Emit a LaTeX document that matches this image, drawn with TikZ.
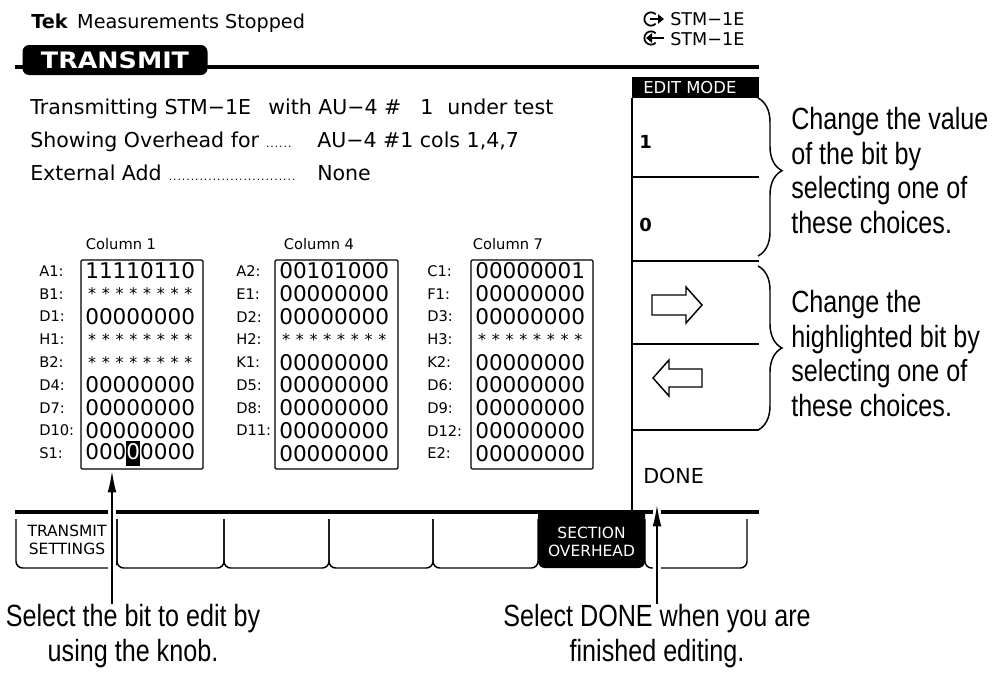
\documentclass[tikz,border=0pt]{standalone}
\usepackage{fontspec}
\setmainfont{DejaVu Sans}
\newfontfamily\notefont[FakeStretch=0.82]{Liberation Sans}
\usetikzlibrary{arrows.meta,positioning,calc,decorations.pathreplacing}

% a starred bit and the highlighted bit, each as wide as a digit
\newcommand\sbit{\makebox[.636em]{\raisebox{-.12em}{\fontsize{12}{12}\selectfont *}}}
\newcommand\starbits{\sbit\sbit\sbit\sbit\sbit\sbit\sbit\sbit}
\newcommand\hibit[1]{\makebox[.636em]{\rlap{\rule[-.3em]{.64em}{1.18em}}\textcolor{white}{#1}}}
\newcommand\leaderdots[1]{\hbox to #1{\leaders\hbox to 3.3pt{\hss\footnotesize.\hss}\hfill}}

\begin{document}
\begin{tikzpicture}[x=0.75pt, y=-0.75pt,
    heavy/.style={line width=2.3pt},
    thinline/.style={line width=0.9pt},
    scrtext/.style={anchor=base west, inner sep=0pt, font=\fontsize{15.4}{18}\selectfont},
    porttext/.style={anchor=base west, inner sep=0pt, font=\fontsize{13.2}{14}\selectfont},
    rowlbl/.style={anchor=west, inner sep=0pt, font=\fontsize{11}{12}\selectfont},
    bits/.style={anchor=west, inner sep=0pt, font=\fontsize{16.2}{18}\selectfont},
    colhead/.style={inner sep=0pt, font=\fontsize{11}{12}\selectfont},
    bitbox/.style={draw, line width=0.9pt, rounded corners=1pt, minimum height=156.75pt},
    softkey/.style={draw, line width=1.1pt, rounded corners=5pt},
    keytext/.style={inner sep=0pt, align=center, font=\fontsize{11.6}{13}\selectfont},
    note/.style={anchor=north west, inner sep=0pt, align=left, font=\notefont\fontsize{23}{26}\selectfont},
    caption/.style={anchor=north, inner sep=0pt, align=center, font=\notefont\fontsize{23}{26}\selectfont},
    callout/.style={line width=1.1pt, -{Latex[length=16pt,width=6.5pt]}},
    halo/.style={draw=white, line width=6pt},
    vbrace/.style={decorate, line width=1.1pt, decoration={brace, amplitude=18pt}}]

\fill[white] (0,0) rectangle (992,675);
\useasboundingbox (0,0) rectangle (992,675);

% status line and ports
\node[scrtext, font=\fontsize{14.4}{16}\selectfont] (status) at (31,28) {{\bfseries Tek}\hspace{.5em}Measurements Stopped};
\node[porttext] (txport) at (670,25) {STM−1E};
\node[porttext] (rxport) at (670,45) {STM−1E};
\draw[line width=1.3pt] (651,19) ++(45:5pt) arc[start angle=45, end angle=315, radius=5pt];
\draw[line width=2pt, -{Triangle[length=4.5pt,width=7pt]}] (650,19) -- (664,19);
\draw[line width=1.3pt] (651,38) ++(45:5pt) arc[start angle=45, end angle=315, radius=5pt];
\draw[line width=2pt, -{Triangle[length=4.5pt,width=7pt]}] (664,38) -- (646,38);

% title bar
\draw[heavy] (15,67) -- (759,67);
\node[fill=black, rounded corners=5pt, minimum width=138.75pt, minimum height=22.5pt, inner sep=0pt,
      text=white, font=\bfseries\fontsize{17}{17}\selectfont] (tab) at (115,60) {\scalebox{1.12}[1]{TRANSMIT}};

% settings lines
\node[scrtext] (line1) at (30,114) {Transmitting STM−1E};
\node[scrtext] (line1b) at (268,114) {with AU−4 \#};
\node[scrtext] (line1c) at (420,114) {1};
\node[scrtext] (line1d) at (447,114) {under test};
\node[scrtext] (line2) at (30,147) {Showing Overhead for \leaderdots{22pt}};
\node[scrtext] (line2v) at (317,147) {AU−4 \#1 cols 1,4,7};
\node[scrtext] (line3) at (30,180) {External Add \leaderdots{96pt}};
\node[scrtext] (line3v) at (317,180) {None};

% overhead columns
\node[colhead] (head1) at (121,244) {Column 1};
\node[colhead] (head4) at (319,244) {Column 4};
\node[colhead] (head7) at (508,244) {Column 7};
\node[bitbox, minimum width=91.5pt] (box1) at (142,364.5) {};
\node[bitbox, minimum width=92.25pt] (box4) at (336.5,364.5) {};
\node[bitbox, minimum width=91.5pt] (box7) at (532,364.5) {};

\foreach \lbl/\val [count=\i] in {A1:/11110110, B1:/\starbits, D1:/00000000, H1:/\starbits,
    B2:/\starbits, D4:/00000000, D7:/00000000, D10:/00000000, S1:/000\hibit{0}0000}
  {\node[rowlbl] (lblA\i) at (39,{271+22.8*(\i-1)}) {\lbl};
   \node[bits] (bitA\i) at (85,{271+22.8*(\i-1)}) {\val};}
\foreach \lbl/\val [count=\i] in {A2:/00101000, E1:/00000000, D2:/00000000, H2:/\starbits,
    K1:/00000000, D5:/00000000, D8:/00000000, D11:/00000000, /00000000}
  {\node[rowlbl] (lblB\i) at (236,{271+22.8*(\i-1)}) {\lbl};
   \node[bits] (bitB\i) at (279,{271+22.8*(\i-1)}) {\val};}
\foreach \lbl/\val [count=\i] in {C1:/00000001, F1:/00000000, D3:/00000000, H3:/\starbits,
    K2:/00000000, D6:/00000000, D9:/00000000, D12:/00000000, E2:/00000000}
  {\node[rowlbl] (lblC\i) at (427,{271+22.8*(\i-1)}) {\lbl};
   \node[bits] (bitC\i) at (475,{271+22.8*(\i-1)}) {\val};}

% side menu
\fill (632,77) rectangle (759,98);
\node[anchor=west, inner sep=0pt, text=white, font=\fontsize{12.3}{12}\selectfont] (mode) at (643,88) {EDIT MODE};
\draw[thinline] (632,98) -- (632,510);
\foreach \y in {177,261,344,430}
  \draw[thinline] (632,\y) -- (759,\y);
\node[anchor=west, inner sep=0pt, font=\bfseries\fontsize{13.5}{12}\selectfont] (setone) at (639,142) {1};
\node[anchor=west, inner sep=0pt, font=\bfseries\fontsize{13.5}{12}\selectfont] (setzero) at (639,225) {0};
\draw[line width=1.1pt] (652,295) -- (686,295) -- (686,287) -- (702,305) -- (686,323) -- (686,315) -- (652,315) -- cycle;
\draw[line width=1.1pt] (702,369) -- (669,369) -- (669,360) -- (653,378) -- (669,396) -- (669,387) -- (702,387) -- cycle;
\node[anchor=west, inner sep=0pt, font=\fontsize{15.5}{16}\selectfont] (done) at (643,476) {DONE};

% braces and notes
\draw[vbrace, decoration={aspect=0.46}] (758,98) -- (758,256);
\draw[vbrace] (758,266) -- (758,430);
\node[note] (valnote) at (791,107) {Change the value\\of the bit by\\selecting one of\\these choices.};
\node[note] (bitnote) at (791,290) {Change the\\highlighted bit by\\selecting one of\\these choices.};

% soft keys
\draw[heavy] (15,512) -- (759,512);
\foreach \xa/\xb in {16/117,117/224,224/329,329/433,433/538,645/747}
  \draw[softkey] (\xa,519) -- (\xa,568) -- (\xb,568) -- (\xb,519);
\fill[rounded corners=5pt] (538,540) -- (538,568) -- (645,568) -- (645,540) [sharp corners] -- (645,512) -- (538,512) -- cycle;
\node[keytext] (keyset) at (67,540) {TRANSMIT\\SETTINGS};
\node[keytext, text=white] (keysoh) at (591.5,542) {SECTION\\OVERHEAD};

% captions and arrows
\node[caption] (knobnote) at (133,604) {Select the bit to edit by\\using the knob.};
\node[caption] (donenote) at (657,604) {Select DONE when you are\\finished editing.};
\coordinate (knobtip) at (112,471);
\coordinate (donetip) at (657,505);
\draw[halo] (knobnote.north -| knobtip) -- (knobtip);
\draw[halo] (donenote.north -| donetip) -- (donetip);
\draw[callout] (knobnote.north -| knobtip) -- (knobtip);
\draw[callout] (donenote.north) -- (donetip);

\end{tikzpicture}
\end{document}
